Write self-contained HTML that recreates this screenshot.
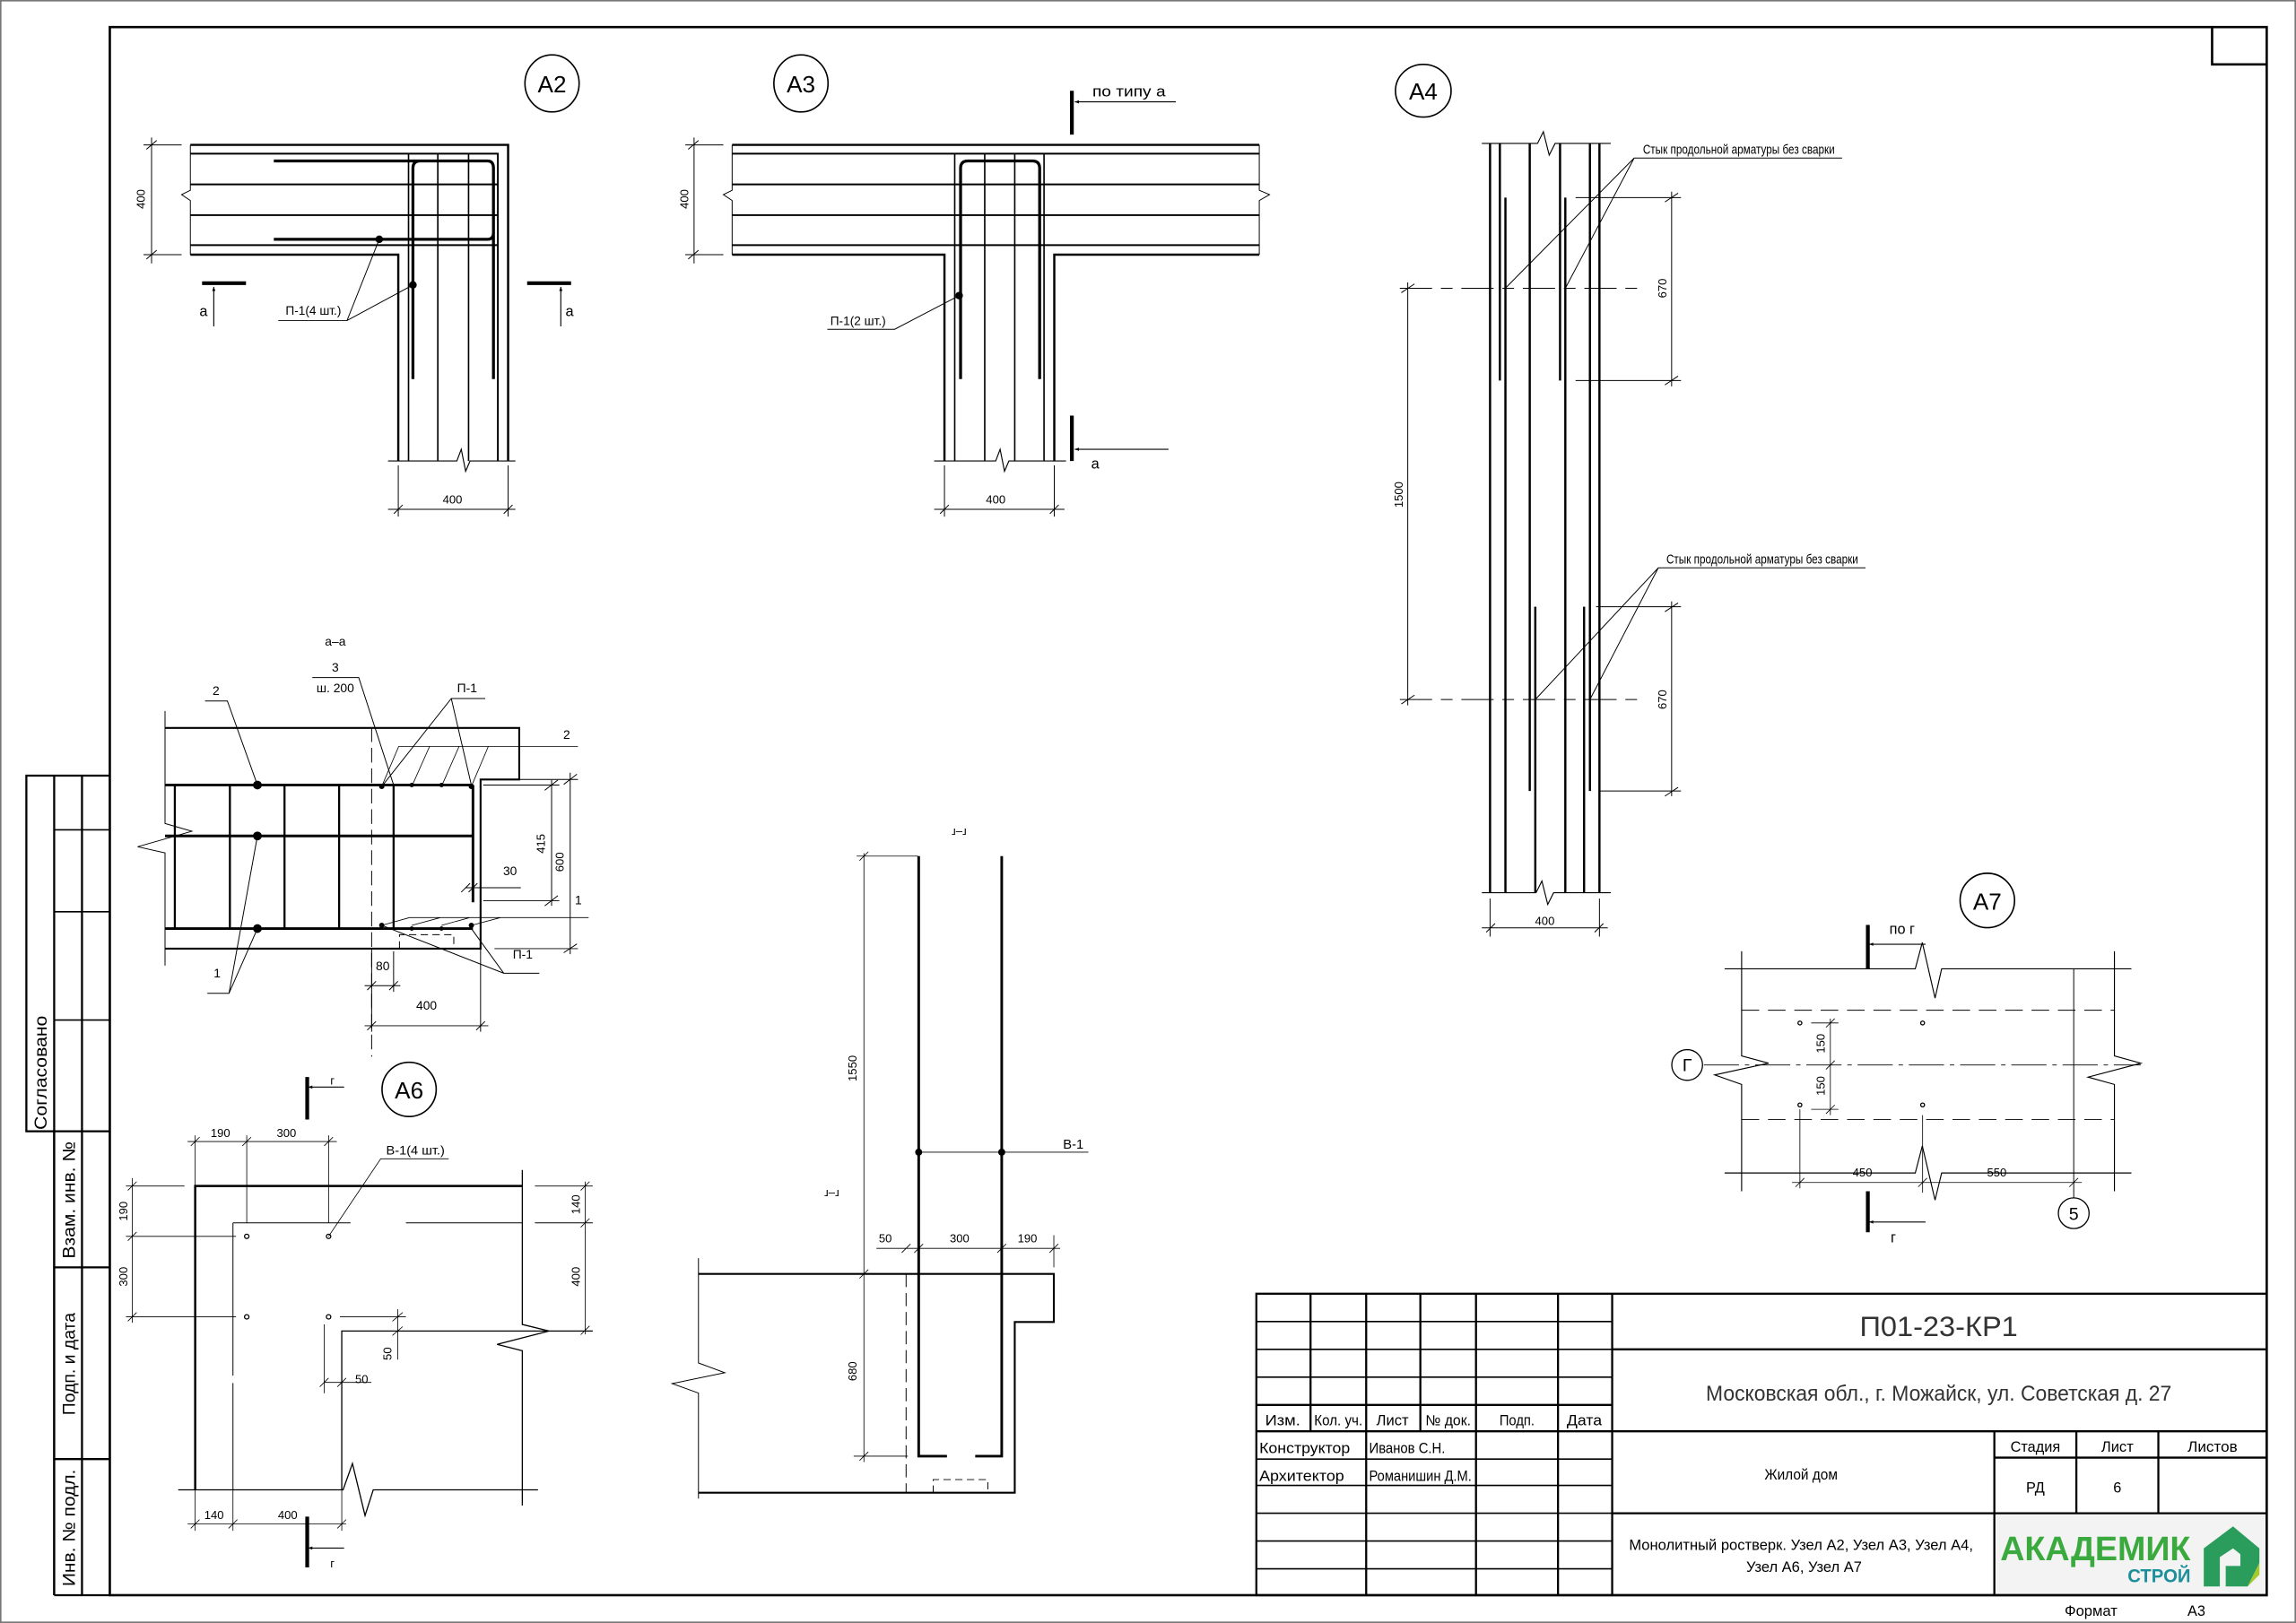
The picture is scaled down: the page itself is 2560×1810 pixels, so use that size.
<!DOCTYPE html>
<html><head><meta charset="utf-8"><style>
html,body{margin:0;padding:0;background:#fff;width:2560px;height:1810px;overflow:hidden}
svg{display:block}
text{font-family:"Liberation Sans Narrow","Liberation Sans",sans-serif;fill:#000}
</style></head><body>
<svg width="2560" height="1810" viewBox="0 0 1568 1109" preserveAspectRatio="none" xmlns="http://www.w3.org/2000/svg">
<defs>
<marker id="ar" viewBox="0 0 10 10" refX="10" refY="5" markerWidth="5" markerHeight="4" orient="auto"><path d="M0,1 L10,5 L0,9 z" fill="#000"/></marker>
</defs>
<rect x="0.5" y="0.5" width="1567" height="1108" fill="none" stroke="#777" stroke-width="1"/>
<g stroke="#000" fill="none">
<rect x="75" y="18.5" width="1473" height="1071.5" stroke-width="1.6"/>
<path d="M1510.7,18.5 V44 H1548" stroke-width="1.6"/>
<g stroke-width="1.4">
<path d="M75,530 H18 V773 H75"/>
<path d="M37,530 V1090 M56,530 V1090"/>
<path d="M37,773 V1090 M37,866 H75 M37,997 H75 M37,1090 H75"/>
</g>
<path d="M37,567 H75 M37,623 H75 M37,697 H75 M56,530 V773" stroke-width="1"/>
<g stroke-width="1.4">
<rect x="858" y="884" width="690" height="206"/>
<path d="M1101,884 V1090 M858,978 H1548 M1101,922 H1548 M1101,1034 H1548 M858,960 H1101"/>
<path d="M895,884 V978 M933,884 V1090 M970,884 V978 M1008,884 V1090 M1064,884 V1090"/>
<path d="M1362,978 V1090 M1418,978 V1034 M1474,978 V1034 M1362,996 H1548"/>
</g>
<path d="M858,903 H1101 M858,922 H1101 M858,941 H1101 M858,997 H1101 M858,1015 H1101 M858,1034 H1101 M858,1053 H1101 M858,1072 H1101" stroke-width="1"/>
</g>
<rect x="1363" y="1035" width="184" height="54" fill="#f3f3f3"/>
<text x="1366" y="1066" font-size="23" font-weight="bold" textLength="130" lengthAdjust="spacingAndGlyphs" style="fill:#3aa93e">АКАДЕМИК</text>
<text x="1453" y="1081" font-size="13" font-weight="bold" textLength="43" lengthAdjust="spacingAndGlyphs" style="fill:#1b8f9a">СТРОЙ</text>
<path d="M1505,1058 L1525,1043 L1543,1058 L1543,1068 L1535,1084 L1520,1084 L1520,1070 L1530,1070 L1530,1062 L1525,1058 L1516,1064 L1516,1084 L1505,1084 Z" fill="#2a9d5c"/>
<path d="M1535,1084 L1543,1068 L1543,1076 Z" fill="#a8c92a"/>

<g font-size="10" text-anchor="middle" style="fill:#222">
<text x="1324" y="913" font-size="19" textLength="108" lengthAdjust="spacingAndGlyphs" style="fill:#333">П01-23-КР1</text>
<text x="1324" y="957" font-size="15" textLength="318" lengthAdjust="spacingAndGlyphs" style="fill:#333">Московская обл., г. Можайск, ул. Советская д. 27</text>
<text x="876" y="974" textLength="24" lengthAdjust="spacingAndGlyphs">Изм.</text><text x="914" y="974" textLength="33" lengthAdjust="spacingAndGlyphs">Кол. уч.</text><text x="951" y="974" textLength="22" lengthAdjust="spacingAndGlyphs">Лист</text><text x="989" y="974" textLength="31" lengthAdjust="spacingAndGlyphs">№ док.</text><text x="1036" y="974" textLength="24" lengthAdjust="spacingAndGlyphs">Подп.</text><text x="1082" y="974" textLength="24" lengthAdjust="spacingAndGlyphs">Дата</text>
<text x="1230" y="1011" textLength="50" lengthAdjust="spacingAndGlyphs">Жилой дом</text>
<text x="1390" y="992" textLength="34" lengthAdjust="spacingAndGlyphs">Стадия</text><text x="1446" y="992" textLength="22" lengthAdjust="spacingAndGlyphs">Лист</text><text x="1511" y="992" textLength="34" lengthAdjust="spacingAndGlyphs">Листов</text>
<text x="1390" y="1020">РД</text><text x="1446" y="1020">6</text>
<text x="1230" y="1059" textLength="235" lengthAdjust="spacingAndGlyphs">Монолитный ростверк. Узел А2, Узел А3, Узел А4,</text>
<text x="1232" y="1074" textLength="79" lengthAdjust="spacingAndGlyphs">Узел А6, Узел А7</text>
<text x="1428" y="1104" textLength="36" lengthAdjust="spacingAndGlyphs">Формат</text><text x="1500" y="1104">А3</text>
</g>
<g font-size="10" style="fill:#222">
<text x="860" y="993" textLength="62" lengthAdjust="spacingAndGlyphs">Конструктор</text><text x="935" y="993" textLength="52" lengthAdjust="spacingAndGlyphs">Иванов С.Н.</text>
<text x="860" y="1012" textLength="58" lengthAdjust="spacingAndGlyphs">Архитектор</text><text x="935" y="1012" textLength="70" lengthAdjust="spacingAndGlyphs">Романишин Д.М.</text>
</g>
<g font-size="12" text-anchor="middle" style="fill:#222">
<text transform="translate(32,733) rotate(-90)" textLength="78" lengthAdjust="spacingAndGlyphs">Согласовано</text>
<text transform="translate(51,820) rotate(-90)" textLength="80" lengthAdjust="spacingAndGlyphs">Взам. инв. №</text>
<text transform="translate(51,932) rotate(-90)" textLength="70" lengthAdjust="spacingAndGlyphs">Подп. и дата</text>
<text transform="translate(51,1044) rotate(-90)" textLength="80" lengthAdjust="spacingAndGlyphs">Инв. № подл.</text>
</g>

<!-- A2 -->
<g stroke="#000" fill="none">
<ellipse cx="377" cy="57" rx="18.5" ry="19.5" stroke-width="1"/>
<path d="M130,99 H347 V315" stroke-width="1.5"/>
<path d="M130,105 H340 V315" stroke-width="1.2"/>
<path d="M130,126 H340 M130,147 H340 M130,167.5 H340" stroke-width="1.2"/>
<path d="M130,174 H272 V315" stroke-width="1.5"/>
<path d="M279,105 V315 M299,105 V315 M320,105 V315" stroke-width="1"/>
<path d="M187,110 H333 Q337,110 337,115 V259 M187,163.5 H333 Q337,163.5 337,159 M282,259 V115 Q282,110 287,110" stroke-width="2"/>
<path d="M130,99 V130 L124,133 L130,137 V174" stroke-width="0.6"/>
<path d="M265,315 H312 L315,307 L318,322 L321,315 H352" stroke-width="0.7"/>
<path d="M103.5,94 V180 M98,99 H124 M98,174 H124 M100,102 L107,96 M100,177 L107,171" stroke-width="0.6"/>
<path d="M272,318 V353 M347,318 V353 M265,348 H352 M269,351 L275,345 M344,351 L350,345" stroke-width="0.6"/>
<path d="M138,193.5 H168 M360,193.5 H390" stroke-width="2.6"/>
<path d="M146,223 V196" stroke-width="0.7" marker-end="url(#ar)"/>
<path d="M383,223 V196" stroke-width="0.7" marker-end="url(#ar)"/>
<path d="M190,219 H237 L259,163.5 M237,219 L282,194.7" stroke-width="0.6"/>
</g>
<circle cx="259" cy="163.5" r="2.6"/><circle cx="282" cy="194.7" r="2.6"/>
<g font-size="8" text-anchor="middle">
<text x="377" y="63" font-size="16">А2</text>
<text transform="translate(99,136) rotate(-90)">400</text>
<text x="309" y="344">400</text>
<text x="139" y="216" font-size="10">а</text><text x="389" y="216" font-size="10">а</text>
<text x="214" y="215" font-size="8.5" textLength="38" lengthAdjust="spacingAndGlyphs">П-1(4 шт.)</text>
</g>

<!-- A3 -->
<g stroke="#000" fill="none">
<ellipse cx="547" cy="57" rx="18.5" ry="19.5" stroke-width="1"/>
<path d="M500,99 H860" stroke-width="1.5"/>
<path d="M500,105 H860 M500,126 H860 M500,147 H860 M500,167.5 H860" stroke-width="1.2"/>
<path d="M500,174 H645 V315 M860,174 H720 V315" stroke-width="1.5"/>
<path d="M652,105 V315 M672.5,105 V315 M693,105 V315 M713,105 V315" stroke-width="1"/>
<path d="M656,259 V115 Q656,110 661,110 H705 Q710,110 710,115 V259" stroke-width="2"/>
<path d="M500,99 V130 L494,133 L500,137 V174 M860,99 V130 L867,133 L860,137 V174" stroke-width="0.6"/>
<path d="M638,315 H680 L683,307 L686,322 L689,315 H728" stroke-width="0.7"/>
<path d="M474,94 V180 M468,99 H494 M468,174 H494 M470,102 L477,96 M470,177 L477,171" stroke-width="0.6"/>
<path d="M645,318 V353 M720,318 V353 M638,348 H727 M642,351 L648,345 M717,351 L723,345" stroke-width="0.6"/>
<path d="M732,62 V92 M732,284 V315" stroke-width="2.6"/>
<path d="M803,69.6 H734" stroke-width="0.7" marker-end="url(#ar)"/>
<path d="M798,307 H734" stroke-width="0.7" marker-end="url(#ar)"/>
<path d="M565,225 H611 L655,202" stroke-width="0.6"/>
</g>
<circle cx="655" cy="202" r="2.6"/>
<g font-size="8" text-anchor="middle">
<text x="547" y="63" font-size="16">А3</text>
<text transform="translate(470,136) rotate(-90)">400</text>
<text x="680" y="344">400</text>
<text x="771" y="66" font-size="10" textLength="50" lengthAdjust="spacingAndGlyphs">по типу а</text>
<text x="748" y="320" font-size="10">а</text>
<text x="586" y="222" font-size="8.5" textLength="38" lengthAdjust="spacingAndGlyphs">П-1(2 шт.)</text>
</g>

<!-- A4 -->
<g stroke="#000" fill="none">
<ellipse cx="972" cy="62" rx="19" ry="18" stroke-width="1"/>
<path d="M1017.6,98 V610 M1028.1,135 V610 M1044.7,98 V540.5 M1048.5,414.6 V610 M1065.4,98 V260 M1069,135 V610 M1081.8,414.6 V610 M1085.8,98 V540.5 M1092.3,98 V610 M1024.3,98 V260" stroke-width="1.5"/>
<path d="M1012,98 H1050 L1054,90 L1058,106 L1062,98 H1100 M1012,610 H1049 L1053,602 L1057,618 L1061,610 H1100" stroke-width="0.7"/>
<path d="M956,197 H1118 M956,478 H1118" stroke-width="0.6" stroke-dasharray="22,6,8,6"/>
<path d="M961.4,193 V482 M957,200 L966,194 M957,481 L966,475" stroke-width="0.6"/>
<path d="M1076,135 H1148 M1076,260 H1148 M1141.6,131 V264 M1137,138 L1146,132 M1137,263 L1146,257" stroke-width="0.6"/>
<path d="M1090,414.6 H1148 M1092,540.5 H1148 M1141.6,411 V544 M1137,418 L1146,412 M1137,544 L1146,538" stroke-width="0.6"/>
<path d="M1017.6,614 V640 M1092.3,614 V640 M1012,634 H1098 M1015,637 L1021,631 M1089,637 L1095,631" stroke-width="0.6"/>
<path d="M1258,108 H1116 L1028,197 M1116,108 L1069,197 M1274,388 H1132.5 L1048.5,478 M1132.5,388 L1085.8,478" stroke-width="0.6"/>
</g>
<g font-size="8" text-anchor="middle">
<text x="972" y="68" font-size="16">А4</text>
<text transform="translate(958,338) rotate(-90)">1500</text>
<text transform="translate(1138,197) rotate(-90)">670</text>
<text transform="translate(1138,478) rotate(-90)">670</text>
<text x="1055" y="632">400</text>
<text x="1122" y="105" text-anchor="start" font-size="9" textLength="131" lengthAdjust="spacingAndGlyphs">Стык продольной арматуры без сварки</text>
<text x="1138" y="385" text-anchor="start" font-size="9" textLength="131" lengthAdjust="spacingAndGlyphs">Стык продольной арматуры без сварки</text>
</g>

<!-- a-a -->
<g stroke="#000" fill="none">
<path d="M112.7,497.4 H354.6 V532.6 H328.2 V648.2 H112.7" stroke-width="1.3"/>
<path d="M112.7,485.8 V562.7 L131,568 L94,578.6 L112.7,582.8 V659.8" stroke-width="0.6"/>
<path d="M112.7,536.4 H323 M112.7,571.2 H323 M112.7,634.5 H323 M323,536.4 V616.5" stroke-width="1.8"/>
<path d="M119.4,536.4 V634.5 M157,536.4 V634.5 M194.3,536.4 V634.5 M231.6,536.4 V634.5 M268.8,536.4 V634.5" stroke-width="1.4"/>
<path d="M253.8,497 V722" stroke-width="0.6" stroke-dasharray="10,4"/>
<path d="M272.8,648.2 V638.7 H309.9 V648.2" stroke-width="0.6" stroke-dasharray="5,3"/>
<path d="M272.3,510 H394.7 M260.7,537.4 L272.3,510 M281.2,537.4 L293.4,510 M301.5,537.4 L313.5,510 M321.9,537.4 L333.5,510" stroke-width="0.5"/>
<path d="M279.7,627 H402 M260.7,632.3 L279.7,627 M281.2,632.3 L300.8,627 M301.5,632.3 L320.8,627 M321.9,632.3 L341.8,627" stroke-width="0.5"/>
<path d="M140,479 H155.3 L175.8,536.4 M141.6,678.7 H156.4 L175.8,571.2 M156.4,678.7 L175.8,634.5" stroke-width="0.6"/>
<path d="M213.3,463 H245 L268.8,536.4 M331.4,477.3 H308.2 L260.7,537.4 M308.2,477.3 L321.9,536.4 M368.3,665 H344 L260.7,632.3 M344,665 L321.9,634.5" stroke-width="0.6"/>
<path d="M330,532.6 H394.7 M337.7,648.2 H394.7 M389.4,528 V652 M385,536 L394,529 M385,651 L394,645" stroke-width="0.6"/>
<path d="M330,536.4 H382 M330,615.5 H382 M376.7,533 V619 M372,540 L381,533 M372,619 L381,612" stroke-width="0.6"/>
<path d="M317.7,606.6 H355.7 M320,609.6 L326,603.6 M315,609.6 L321,603.6" stroke-width="0.6"/>
<path d="M253.8,648 V705 M268.8,650 V677.7 M328.2,648 V705 M249,673.5 H273.4 M250.8,676.5 L256.8,670.5 M265.8,676.5 L271.8,670.5 M249,700.9 H333.5 M250.8,703.9 L256.8,697.9 M325.2,703.9 L331.2,697.9" stroke-width="0.6"/>
</g>
<g>
<circle cx="175.8" cy="536.4" r="3"/><circle cx="175.8" cy="571.2" r="3"/><circle cx="175.8" cy="634.5" r="3"/>
<circle cx="260.7" cy="537.4" r="1.8"/><circle cx="281.2" cy="536.4" r="1.5"/><circle cx="301.5" cy="536.4" r="1.5"/><circle cx="321.9" cy="537.4" r="1.8"/>
<circle cx="260.7" cy="632.3" r="1.8"/><circle cx="281.2" cy="634.5" r="1.5"/><circle cx="301.5" cy="634.5" r="1.5"/><circle cx="321.9" cy="632.3" r="1.8"/>
</g>
<g font-size="8.5" text-anchor="middle">
<text x="229" y="441">а–а</text>
<text x="147.5" y="475">2</text><text x="229" y="459">3</text><text x="229" y="473">ш. 200</text>
<text x="319" y="473">П-1</text><text x="387" y="505">2</text><text x="395" y="618">1</text>
<text x="357" y="655">П-1</text><text x="148.3" y="668">1</text>
<text x="348.3" y="598">30</text><text x="261.4" y="663">80</text><text x="291.3" y="690">400</text>
<text transform="translate(372,576.5) rotate(-90)" font-size="8">415</text>
<text transform="translate(385,589) rotate(-90)" font-size="8">600</text>
</g>

<!-- A6 -->
<g stroke="#000" fill="none">
<circle cx="279.4" cy="744.4" r="18.5" stroke-width="1"/>
<path d="M209.8,735.9 V765 M209.8,1036.3 V1071" stroke-width="2.6"/>
<path d="M235,742.8 H210.5" stroke-width="0.7" marker-end="url(#ar)"/>
<path d="M235,1057.8 H210.5" stroke-width="0.7" marker-end="url(#ar)"/>
<path d="M133.3,1018 V810.4 H356.7" stroke-width="1.5"/>
<path d="M121.7,1018 H234.3 L240.7,1000 L249.3,1035.6 L254.9,1018 H367.4" stroke-width="0.8"/>
<path d="M356.7,799.4 V905 L375,909.5 L339.5,918.6 L356.7,923 V1028.7" stroke-width="0.8"/>
<path d="M159.1,835.6 H239.4 M277.2,835.6 H356.7 M365.3,835.6 H404.8 M159.1,835.6 V940 M159.1,945 V1018" stroke-width="0.6"/>
<path d="M233.4,1018 V909.5 H356.7 M356.7,909.5 H404.8" stroke-width="0.8"/>
<path d="M232.1,899.8 H277.2 M271.6,894.6 V929 M268,902.8 L275,896.8 M268,912.5 L275,906.5 M221.4,905 V952 M221.4,944.6 H253.6 M218.4,947.6 L224.4,941.6 M230.4,947.6 L236.4,941.6" stroke-width="0.5"/>
<path d="M128.1,780 H230 M133.3,775.8 V810 M168.5,775.8 V835.6 M224.4,775.8 V835.6 M130.3,783 L136.3,777 M165.5,783 L171.5,777 M221.4,783 L227.4,777" stroke-width="0.5"/>
<path d="M90.3,805 V903.8 M86,810.4 H126 M86,844.8 H161.2 M86,899.8 H161.2 M87.3,813.4 L93.3,807.4 M87.3,847.8 L93.3,841.8 M87.3,902.8 L93.3,896.8" stroke-width="0.5"/>
<path d="M399.6,807.4 V911.8 M365.3,810.4 H404.8 M396.6,813.4 L402.6,807.4 M396.6,838.6 L402.6,832.6 M396.6,912 L402.6,906" stroke-width="0.5"/>
<path d="M128.1,1041.3 H236.4 M133.3,1018 V1046 M159.1,1018 V1046 M233.4,1018 V1046 M130.3,1044.3 L136.3,1038.3 M156.1,1044.3 L162.1,1038.3 M230.4,1044.3 L236.4,1038.3" stroke-width="0.5"/>
<path d="M306.4,791.8 H260 L224.4,844.8" stroke-width="0.5"/>
</g>
<g fill="none" stroke="#000" stroke-width="0.8">
<circle cx="168.5" cy="844.8" r="1.5"/><circle cx="224.4" cy="844.8" r="1.5"/><circle cx="168.5" cy="899.8" r="1.5"/><circle cx="224.4" cy="899.8" r="1.5"/>
</g>
<g font-size="8" text-anchor="middle">
<text x="279.4" y="750.5" font-size="16">А6</text>
<text x="227" y="741">г</text><text x="227" y="1071">г</text>
<text x="150.5" y="777">190</text><text x="195.6" y="777">300</text>
<text transform="translate(87,827.6) rotate(-90)">190</text>
<text transform="translate(87,872.3) rotate(-90)">300</text>
<text transform="translate(396,823) rotate(-90)">140</text>
<text transform="translate(396,872.3) rotate(-90)">400</text>
<text transform="translate(267.5,925) rotate(-90)">50</text>
<text x="247" y="945">50</text>
<text x="146.2" y="1038">140</text><text x="196.5" y="1038">400</text>
<text x="283.7" y="789" font-size="8.5" textLength="40" lengthAdjust="spacingAndGlyphs">В-1(4 шт.)</text>
</g>

<!-- г-г -->
<g stroke="#000" fill="none">
<path d="M627.4,585 V995 H646.7 M684.1,585 V995 H666" stroke-width="1.8"/>
<path d="M627.4,787.3 H743.3" stroke-width="0.5"/>
<path d="M477,870.5 H719.7 V903.3 H693 V1020 H477" stroke-width="1.3"/>
<path d="M477,859.7 V931.3 L495,938 L459,945.4 L477,951.9 V1024" stroke-width="0.6"/>
<path d="M618.8,870.5 V1020" stroke-width="0.6" stroke-dasharray="9,4"/>
<path d="M637.3,1020 V1011 H674.6 V1020" stroke-width="0.6" stroke-dasharray="5,3"/>
<path d="M590,583 V999 M585,585 H627 M583,995 H620 M587,588 L593,582 M587,873.5 L593,867.5 M587,998 L593,992" stroke-width="0.5"/>
<path d="M598.5,853 H724 M719.7,844 V866 M615.8,856 L621.8,850 M624.4,856 L630.4,850 M681.1,856 L687.1,850 M716.7,856 L722.7,850" stroke-width="0.5"/>
</g>
<circle cx="627.4" cy="787.3" r="2.4"/><circle cx="684.1" cy="787.3" r="2.4"/>
<g font-size="8" text-anchor="middle">
<text transform="translate(655,566) rotate(180)">г–г</text>
<text transform="translate(568,813) rotate(180)">г–г</text>
<text transform="translate(585,730) rotate(-90)">1550</text>
<text transform="translate(585,937) rotate(-90)">680</text>
<text x="604.6" y="849">50</text><text x="655.3" y="849">300</text><text x="701.6" y="849">190</text>
<text x="733" y="785" font-size="9">В-1</text>
</g>

<!-- A7 -->
<g stroke="#000" fill="none">
<circle cx="1357.2" cy="615.3" r="18.6" stroke-width="1"/>
<path d="M1275.6,632 V662 M1275.6,814 V842" stroke-width="2.6"/>
<path d="M1315,645.2 H1276.5" stroke-width="0.7" marker-end="url(#ar)"/>
<path d="M1315,835 H1276.5" stroke-width="0.7" marker-end="url(#ar)"/>
<path d="M1177.8,662 H1308 L1312.8,644 L1321.5,682 L1326,662 H1455.6" stroke-width="0.7"/>
<path d="M1177.8,801.5 H1308 L1312.8,783 L1321.5,820 L1326,801.5 H1455.6" stroke-width="0.7"/>
<path d="M1189.4,650 V721.5 L1207.8,726.5 L1171,734.5 L1189.4,741 V814 M1444,650 V721.5 L1462.1,726.5 L1426,736 L1444,741 V814" stroke-width="0.7"/>
<path d="M1189.4,690.3 H1444 M1189.4,765 H1444" stroke-width="0.6" stroke-dasharray="12,6"/>
<path d="M1163.6,727.7 H1462" stroke-width="0.5" stroke-dasharray="24,4,3,4"/>
<circle cx="1152.2" cy="727.7" r="10.5" stroke-width="0.8"/>
<circle cx="1416.2" cy="829" r="10.5" stroke-width="0.8"/>
<path d="M1416.2,662 V818.5" stroke-width="0.6"/>
<path d="M1250,696 V762 M1236.9,699 H1255.5 M1236.9,758 H1255.5 M1247,702 L1253,696 M1247,730.7 L1253,724.7 M1247,761 L1253,755" stroke-width="0.5"/>
<path d="M1223.8,808 H1421.7 M1229.2,758 V812 M1313,762 V815 M1226.2,811 L1232.2,805 M1310,811 L1316,805 M1413.2,811 L1419.2,805" stroke-width="0.5"/>
</g>
<g fill="none" stroke="#000" stroke-width="0.8">
<circle cx="1229.2" cy="699" r="1.3"/><circle cx="1313" cy="699" r="1.3"/><circle cx="1229.2" cy="755" r="1.3"/><circle cx="1313" cy="755" r="1.3"/>
</g>
<g font-size="8" text-anchor="middle">
<text x="1357.2" y="621.5" font-size="16">А7</text>
<text x="1299" y="638" font-size="10">по г</text>
<text x="1293" y="849" font-size="10">г</text>
<text x="1152.2" y="732" font-size="12">Г</text>
<text x="1416.2" y="833.5" font-size="12">5</text>
<text transform="translate(1246,713) rotate(-90)">150</text>
<text transform="translate(1246,742) rotate(-90)">150</text>
<text x="1271.9" y="804">450</text><text x="1363.7" y="804">550</text>
</g>
</svg>
</body></html>
